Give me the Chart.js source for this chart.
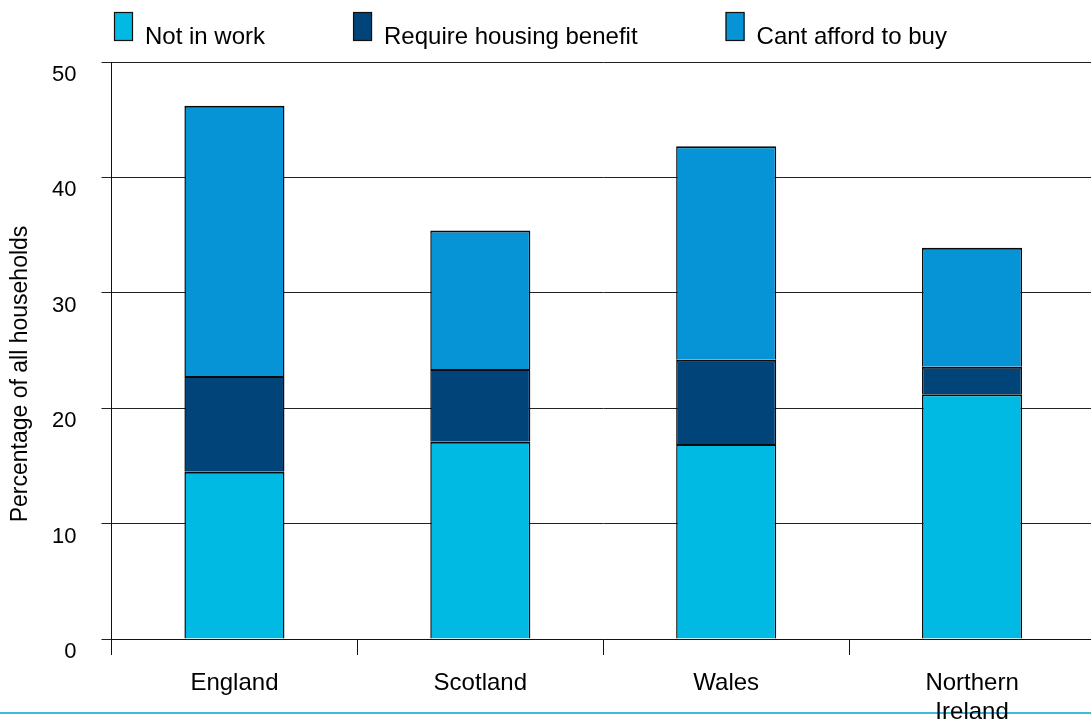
<!DOCTYPE html>
<html>
<head>
<meta charset="utf-8">
<script src="https://cdn.jsdelivr.net/npm/chart.js@4/dist/chart.umd.min.js"></script>
<style>
  html, body { margin: 0; padding: 0; background: #fff; overflow: hidden; }
  #wrap { width: 1095px; height: 719px; }
</style>
</head>
<body>
<div id="wrap"><canvas id="chart" width="1095" height="719"></canvas></div>
<script>
const FONT = '"Liberation Sans", Arial, Helvetica, sans-serif';

const categories = ['England', 'Scotland', 'Wales', ['Northern', 'Ireland']];
const notInWork = [14.5, 17.1, 16.9, 21.2];
const requireHousingBenefit = [8.3, 6.3, 7.3, 2.4];
const cantAffordToBuy = [23.4, 12.0, 18.5, 10.3];
const yTicks = [0, 10, 20, 30, 40, 50];
const axisTitle = 'Percentage of all households';

const seriesColors = ['#00bae3', '#01447a', '#0794d6'];

// legend row across the top
const topLegend = {
  id: 'topLegend',
  afterDraw(chart) {
    const ctx = chart.ctx;
    ctx.save();
    ctx.font = '24px ' + FONT;
    ctx.textBaseline = 'alphabetic';
    ctx.textAlign = 'left';
    let x = 114;
    chart.data.datasets.forEach(ds => {
      ctx.fillStyle = ds.backgroundColor;
      ctx.fillRect(x, 12, 19, 29);
      ctx.lineWidth = 1.2;
      ctx.strokeStyle = '#111';
      ctx.strokeRect(x + 0.5, 12.5, 18, 28);
      ctx.fillStyle = '#000';
      const tx = x + 31;
      ctx.fillText(ds.label, tx, 44);
      x = tx + ctx.measureText(ds.label).width + 88;
    });
    ctx.restore();
  }
};

// rotated y-axis title
const yTitle = {
  id: 'yTitle',
  afterDraw(chart) {
    const ctx = chart.ctx;
    ctx.save();
    ctx.translate(21, 374);
    ctx.rotate(-Math.PI / 2);
    ctx.font = '23px ' + FONT;
    ctx.fillStyle = '#000';
    ctx.textAlign = 'center';
    ctx.textBaseline = 'middle';
    ctx.fillText(axisTitle, 0, 0);
    ctx.restore();
  }
};

// thin rule along the foot of the figure
const footRule = {
  id: 'footRule',
  beforeDraw(chart) {
    const ctx = chart.ctx;
    ctx.save();
    ctx.fillStyle = '#3db9e2';
    ctx.fillRect(0, 712, chart.width, 2);
    ctx.restore();
  }
};

new Chart(document.getElementById('chart'), {
  type: 'bar',
  data: {
    labels: categories,
    datasets: [
      { label: 'Not in work', data: notInWork, backgroundColor: seriesColors[0] },
      { label: 'Require housing benefit', data: requireHousingBenefit, backgroundColor: seriesColors[1] },
      { label: 'Cant afford to buy', data: cantAffordToBuy, backgroundColor: seriesColors[2] }
    ].map(d => Object.assign(d, {
      borderColor: '#0a0a0a',
      borderWidth: { top: 2, left: 1.5, right: 1.5, bottom: 0 },
      borderSkipped: 'start',
      categoryPercentage: 1,
      barPercentage: 0.407
    }))
  },
  options: {
    responsive: false,
    animation: false,
    layout: { padding: { top: 62, left: 0, right: 0, bottom: 0 } },
    plugins: {
      legend: { display: false },
      tooltip: { enabled: false },
      title: { display: false }
    },
    scales: {
      x: {
        stacked: true,
        grid: {
          offset: true,
          drawOnChartArea: false,
          drawTicks: true,
          tickLength: 16,
          color: '#111',
          lineWidth: 1
        },
        border: { display: true, color: '#111', width: 1 },
        ticks: {
          color: '#000',
          padding: 14,
          font: { family: FONT, size: 24, lineHeight: 1.2 },
          maxRotation: 0,
          autoSkip: false
        },
        afterFit(s) { s.height = 80; }
      },
      y: {
        stacked: true,
        min: 0,
        max: 50,
        afterBuildTicks(s) { s.ticks = yTicks.map(v => ({ value: v })); },
        grid: {
          color: '#222',
          lineWidth: 1,
          tickLength: 10,
          drawTicks: true
        },
        border: { display: true, color: '#111', width: 1 },
        ticks: {
          color: '#000',
          padding: 25,
          labelOffset: 13,
          font: { family: FONT, size: 22 }
        },
        afterFit(s) { s.width = 111.5; }
      }
    }
  },
  plugins: [footRule, topLegend, yTitle]
});
</script>
</body>
</html>
